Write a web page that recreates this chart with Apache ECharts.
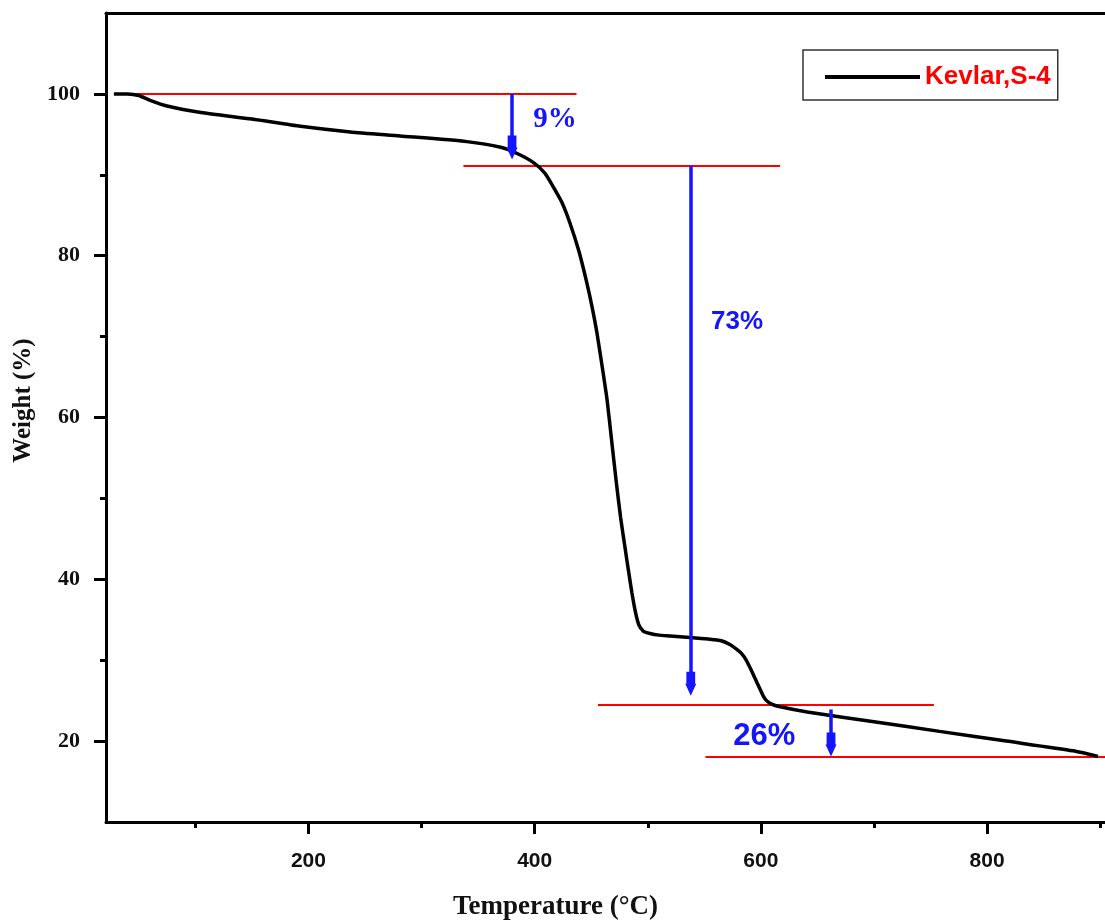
<!DOCTYPE html>
<html>
<head>
<meta charset="utf-8">
<script src="https://cdn.jsdelivr.net/npm/echarts@6/dist/echarts.min.js"></script>
<style>
    html, body { margin: 0; padding: 0; background: #fff; }
    #chart { width: 1105px; height: 921px; }
</style>
</head>
<body>
<div id="chart"></div>
<script>
// TGA curve (temperature in °C, weight in %)
const temps = [28, 40, 50, 60, 75, 105, 150, 193, 237, 281, 340, 370, 385, 399, 409, 416, 424, 431, 439, 446, 451, 455,
    460, 464, 468, 472, 476, 480, 483, 486, 489, 492, 496, 502, 510, 520, 537, 555, 565, 573, 579, 583, 587,
    591, 595, 599, 602, 605, 609, 615, 641, 700, 758, 817, 876, 898];
const weights = [100, 100, 99.8, 99.2, 98.5, 97.7, 96.9, 96.0, 95.3, 94.8, 94.1, 93.4, 92.6, 91.5, 90.2, 88.6, 86.6, 84.1, 80.6, 76.7, 73.5, 70.5,
    66.0, 62.2, 57.2, 52.2, 47.6, 43.8, 41.0, 38.3, 36.0, 34.4, 33.6, 33.3, 33.1, 33.0, 32.8, 32.6, 32.4, 31.9, 31.3, 30.8, 30.0,
    28.9, 27.7, 26.5, 25.6, 25.0, 24.6, 24.3, 23.6, 22.4, 21.2, 20.0, 18.8, 18.1];

// red reference levels
const levelY = [100, 91.1, 24.5, 18.1];
const levelStart = [28, 337, 456, 551];
const levelEnd = [437, 617, 753, 906];

// blue arrows for the weight loss steps
const arrowX = [380, 538, 662];
const arrowFrom = [100, 91.1, 23.9];
const arrowTo = [91.9, 25.6, 18.1];

// percent labels
const stepText = ['9%', '73%', '26%'];
const stepX = [418, 579, 603];
const stepY = [96.8, 71.8, 20.6];

const xMajor = [200, 400, 600, 800];
const xMinor = [100, 300, 500, 700, 900];
const yMajor = [20, 40, 60, 80, 100];
const yMinor = [30, 50, 70, 90];

const serif = '"Liberation Serif", "DejaVu Serif", serif';
const sans = '"Liberation Sans", Arial, sans-serif';
const blue = '#1414ff';

const chart = echarts.init(document.getElementById('chart'));

const curve = temps.map((t, i) => [t, weights[i]]);
const levels = levelY.map((y, i) => ({ coords: [[levelStart[i], y], [levelEnd[i], y]] }));
const shafts = arrowX.map((x, i) => ({ coords: [[x, arrowFrom[i]], [x, arrowTo[i] + 1.2]] }));
const heads = arrowX.map((x, i) => [x, arrowTo[i]]);
const labelStyles = [
    { fontFamily: serif, fontSize: 29 },
    { fontFamily: sans, fontSize: 26 },
    { fontFamily: sans, fontSize: 31 }
];
const stepLabels = stepText.map((s, i) => ({
    value: [stepX[i], stepY[i]],
    name: s,
    label: Object.assign({ show: true, position: 'inside', formatter: s, color: blue, fontWeight: 'bold' }, labelStyles[i])
}));

const X_MIN = 21, X_MAX = 906;

chart.setOption({
    animation: false,
    grid: { left: 106, right: -2, top: 13, bottom: 99, containLabel: false, outerBoundsMode: 'none' },
    legend: {
        data: [{ name: 'Kevlar,S-4', icon: 'rect' }],
        left: 803,
        top: 50,
        padding: [14, 7, 10, 22],
        itemWidth: 95,
        itemHeight: 4,
        borderColor: '#333',
        borderWidth: 1.5,
        itemStyle: { color: '#000' },
        textStyle: { color: '#ff0000', fontFamily: sans, fontWeight: 'bold', fontSize: 26 }
    },
    xAxis: [
        {
            type: 'value', min: X_MIN, max: X_MAX, position: 'bottom',
            axisLine: { lineStyle: { color: '#000', width: 3 } },
            axisTick: { customValues: xMajor, length: 12, lineStyle: { color: '#000', width: 3 } },
            axisLabel: { customValues: xMajor, margin: 29, color: '#111', fontFamily: sans, fontWeight: 'bold', fontSize: 21 },
            splitLine: { show: false },
            name: 'Temperature (°C)',
            nameLocation: 'middle',
            nameGap: 72,
            nameTextStyle: { color: '#111', fontFamily: serif, fontWeight: 'bold', fontSize: 27, padding: [0, 102, 0, 0] }
        },
        {
            type: 'value', min: X_MIN, max: X_MAX, position: 'bottom',
            axisLine: { show: false },
            axisTick: { customValues: xMinor, length: 6, lineStyle: { color: '#000', width: 3 } },
            axisLabel: { show: false },
            splitLine: { show: false }
        },
        {
            type: 'value', min: X_MIN, max: X_MAX, position: 'top',
            axisLine: { lineStyle: { color: '#000', width: 3 } },
            axisTick: { show: false },
            axisLabel: { show: false },
            splitLine: { show: false }
        }
    ],
    yAxis: [
        {
            type: 'value', min: 10, max: 110, position: 'left',
            axisLine: { show: true, lineStyle: { color: '#000', width: 3 } },
            axisTick: { show: true, customValues: yMajor, length: 12, lineStyle: { color: '#000', width: 3 } },
            axisLabel: { customValues: yMajor, margin: 26, color: '#111', fontFamily: serif, fontWeight: 'bold', fontSize: 22 },
            splitLine: { show: false },
            name: 'Weight (%)',
            nameLocation: 'middle',
            nameGap: 66,
            nameTextStyle: { color: '#111', fontFamily: serif, fontWeight: 'bold', fontSize: 25, padding: [0, 0, 0, 34] }
        },
        {
            type: 'value', min: 10, max: 110, position: 'left',
            axisLine: { show: false },
            axisTick: { show: true, customValues: yMinor, length: 6, lineStyle: { color: '#000', width: 3 } },
            axisLabel: { show: false },
            splitLine: { show: false }
        }
    ],
    series: [
        {
            name: 'levels',
            type: 'lines',
            coordinateSystem: 'cartesian2d',
            xAxisIndex: 0, yAxisIndex: 0,
            lineStyle: { color: '#ff0000', width: 2, opacity: 1 },
            data: levels,
            z: 1
        },
        {
            name: 'Kevlar,S-4',
            type: 'line',
            xAxisIndex: 0, yAxisIndex: 0,
            data: curve,
            symbol: 'none',
            smooth: 0.2,
            lineStyle: { color: '#000', width: 3.5 },
            itemStyle: { color: '#000' },
            z: 3
        },
        {
            name: 'arrows',
            type: 'lines',
            coordinateSystem: 'cartesian2d',
            xAxisIndex: 0, yAxisIndex: 0,
            lineStyle: { color: blue, width: 3.5, opacity: 1 },
            data: shafts,
            z: 4
        },
        {
            name: 'heads',
            type: 'scatter',
            xAxisIndex: 0, yAxisIndex: 0,
            symbol: 'path://M1,0 L9,0 L9,12 L10,12 L5,24 L0,12 L1,12 Z',
            symbolSize: [11, 24],
            symbolOffset: [0, '-50%'],
            itemStyle: { color: blue, opacity: 1 },
            data: heads,
            z: 5
        },
        {
            name: 'steps',
            type: 'scatter',
            xAxisIndex: 0, yAxisIndex: 0,
            symbolSize: 0,
            itemStyle: { opacity: 1 },
            data: stepLabels,
            z: 6
        }
    ]
});

window.addEventListener('resize', () => chart.resize());
</script>
</body>
</html>
